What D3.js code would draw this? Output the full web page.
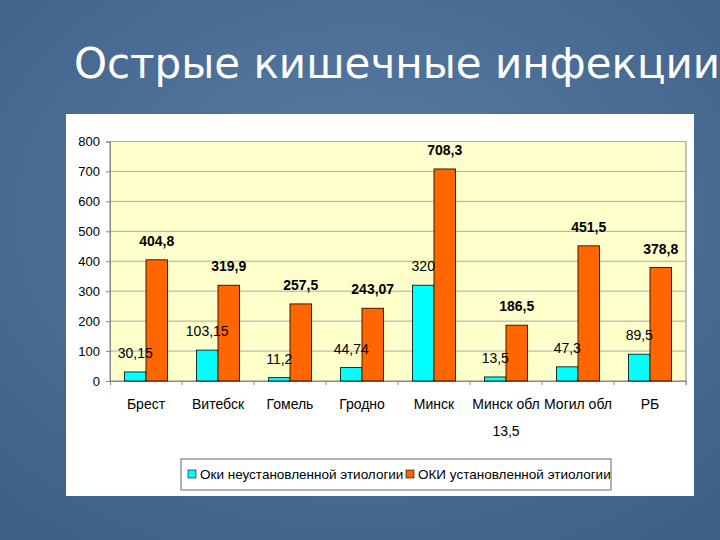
<!DOCTYPE html><html><head><meta charset="utf-8"><script src="https://d3js.org/d3.v7.min.js"></script>
<style>body{margin:0}svg{display:block}</style></head><body><script>
const categories=["Брест","Витебск","Гомель","Гродно","Минск","Минск обл","Могил обл","РБ"];
const unknownVals=[30.15,103.15,11.2,44.74,320,13.5,47.3,89.5];
const knownVals=[404.8,319.9,257.5,243.07,708.3,186.5,451.5,378.8];
const unknownLabels=["30,15","103,15","11,2","44,74","320","13,5","47,3","89,5"];
const knownLabels=["404,8","319,9","257,5","243,07","708,3","186,5","451,5","378,8"];
const ticks=[0,100,200,300,400,500,600,700,800];
const seriesNames=["Оки неустановленной этиологии","ОКИ установленной этиологии"];
const colors=["#00ffff","#ff6600"];
const svg=d3.select("body").append("svg").attr("width",720).attr("height",540);
const defs=svg.append("defs");
const g=defs.append("radialGradient").attr("id","bg").attr("cx","50%").attr("cy","40%").attr("r","75%");
g.append("stop").attr("offset","0%").attr("stop-color","#5b7ea6");
g.append("stop").attr("offset","100%").attr("stop-color","#3e5f86");
svg.append("rect").attr("width",720).attr("height",540).attr("fill","url(#bg)");
svg.append("text").attr("x",397).attr("y",78).attr("text-anchor","middle").attr("fill","#fff")
 .attr("font-family","'DejaVu Sans',sans-serif").attr("font-size",42).text("Острые кишечные инфекции");
svg.append("rect").attr("x",66).attr("y",114).attr("width",628).attr("height",382).attr("fill","#fff");
const x=d3.scaleBand().domain(categories).range([110,686]);
const y=d3.scaleLinear().domain([0,800]).range([381,141.5]);
const bw=21.5;
svg.append("rect").attr("x",110).attr("y",141.5).attr("width",576).attr("height",239.5).attr("fill","#ffffcc").attr("stroke","#888");
svg.append("g").selectAll("line").data(ticks.slice(1)).join("line").attr("x1",110).attr("x2",686)
 .attr("y1",d=>y(d)).attr("y2",d=>y(d)).attr("stroke","#aaa");
const ax=svg.append("g").attr("transform","translate(110,0)").call(d3.axisLeft(y).tickValues(ticks).tickSize(4).tickPadding(6));
ax.select(".domain").attr("stroke","#888");ax.selectAll(".tick line").attr("stroke","#888");
ax.selectAll("text").attr("font-family","'Liberation Sans',Arial").attr("font-size",13).attr("fill","#000");
const xa=svg.append("g").attr("transform","translate(0,381)").call(d3.axisBottom(x).tickSize(4).tickPadding(14));
xa.select(".domain").attr("stroke","#888");xa.selectAll(".tick line").attr("stroke","#888").attr("transform",`translate(${x.bandwidth()/2},0)`);
xa.selectAll("text").attr("font-family","'Liberation Sans',Arial").attr("font-size",14).attr("fill","#000");
svg.append("text").attr("x",x("Минск обл")+x.bandwidth()/2).attr("y",436).attr("text-anchor","middle")
 .attr("font-family","'Liberation Sans',Arial").attr("font-size",14).text(unknownLabels[5]);
const c0=c=>x(c)+x.bandwidth()/2-bw;
svg.append("g").selectAll("rect").data(categories).join("rect").attr("x",c=>c0(c)).attr("width",bw)
 .attr("y",(c,i)=>y(unknownVals[i])).attr("height",(c,i)=>381-y(unknownVals[i])).attr("fill",colors[0]).attr("stroke","#000").attr("stroke-width",0.8);
svg.append("g").selectAll("rect").data(categories).join("rect").attr("x",c=>c0(c)+bw).attr("width",bw)
 .attr("y",(c,i)=>y(knownVals[i])).attr("height",(c,i)=>381-y(knownVals[i])).attr("fill",colors[1]).attr("stroke","#000").attr("stroke-width",0.8);
svg.append("g").selectAll("text").data(categories).join("text").attr("x",c=>c0(c)+bw/2).attr("y",(c,i)=>y(unknownVals[i])-14)
 .attr("text-anchor","middle").attr("font-family","'Liberation Sans',Arial").attr("font-size",14).text((c,i)=>unknownLabels[i]);
svg.append("g").selectAll("text").data(categories).join("text").attr("x",c=>c0(c)+bw*1.5).attr("y",(c,i)=>y(knownVals[i])-14)
 .attr("text-anchor","middle").attr("font-family","'Liberation Sans',Arial").attr("font-weight","bold").attr("font-size",14).text((c,i)=>knownLabels[i]);
const lg=svg.append("g");
lg.append("rect").attr("x",181).attr("y",459).attr("width",430).attr("height",31).attr("fill","#fff").attr("stroke","#666");
const lx=[188,406];
seriesNames.forEach((n,i)=>{
 lg.append("rect").attr("x",lx[i]).attr("y",470).attr("width",8).attr("height",8).attr("fill",colors[i]).attr("stroke","#000").attr("stroke-width",0.6);
 lg.append("text").attr("x",lx[i]+12).attr("y",479).attr("font-family","'Liberation Sans',Arial").attr("font-size",13.5).text(n);
});
</script></body></html>
